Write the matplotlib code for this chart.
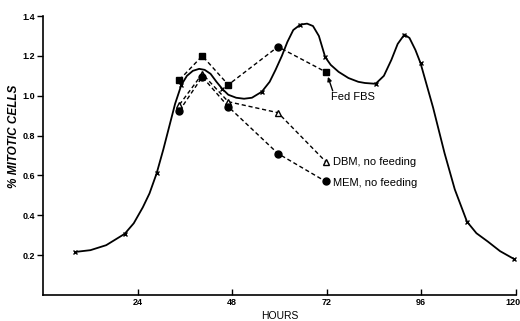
import numpy as np
import matplotlib.pyplot as plt
from matplotlib.transforms import offset_copy

plt.rcParams['font.family'] = ['Liberation Sans', 'DejaVu Sans']

# solid curve: x-marked observations
obs_h = [8.1, 20.7, 28.8, 35.1, 45.5, 55.5, 65.3, 71.6, 84.4, 91.7, 95.8, 107.6, 119.6]
obs_pct = [0.216, 0.307, 0.61, 1.055, 1.034, 1.02, 1.357, 1.194, 1.06, 1.307, 1.164, 0.368, 0.18]

# the hand-drawn curve through them
curve_h = [8.1, 12, 16, 20.7, 23, 25.3, 27, 28.8, 30.5, 32, 33.5, 35.1, 36.5, 38, 39.6,
           41, 42.5, 44, 45.5, 47, 49, 51, 53, 55.5, 57.5, 59, 60.6, 62, 63.5, 65.3,
           67, 68.5, 70, 71.6, 73, 75, 77.5, 80, 81.7, 84.4, 86.5, 88.4, 90, 91.7,
           93, 94.5, 95.8, 99, 101.9, 104.5, 107.6, 110, 112.9, 116, 119.6]
curve_pct = [0.216, 0.225, 0.25, 0.307, 0.36, 0.44, 0.51, 0.61, 0.73, 0.845, 0.96, 1.055,
             1.10, 1.125, 1.135, 1.13, 1.11, 1.07, 1.034, 1.005, 0.99, 0.985, 0.99, 1.02,
             1.07, 1.13, 1.2, 1.27, 1.33, 1.357, 1.362, 1.35, 1.30, 1.194, 1.155, 1.12,
             1.089, 1.07, 1.064, 1.06, 1.10, 1.18, 1.26, 1.307, 1.29, 1.23, 1.164, 0.94,
             0.712, 0.53, 0.368, 0.31, 0.268, 0.22, 0.18]

# dashed series
feed_h = [34.6, 40.4, 47.0, 59.6, 71.7]
fbs_pct = [1.08, 1.20, 1.055, 1.246, 1.12]
fbs_mk = ['s', 's', 's', 'o', 's']
dbm_pct = [0.955, 1.11, 0.97, 0.915, 0.67]
mem_pct = [0.925, 1.095, 0.945, 0.71, 0.57]

x_ticks = [24, 48, 72, 96, 120]
y_ticks = [0.2, 0.4, 0.6, 0.8, 1.0, 1.2, 1.4]
y_labels = ['0.2', '0.4', '0.6', '0.8', '1.0', '1.2', '1.4']

fig = plt.figure(figsize=(5.2, 3.21), dpi=100)
ax = fig.add_axes([0.083, 0.081, 0.909, 0.869])

ax.plot(curve_h, curve_pct, color='black', lw=1.3, zorder=3)
ax.plot(obs_h, obs_pct, 'x', color='black', ms=3, mew=1.0, zorder=4)

dash = (0, (3, 2))
ax.plot(feed_h, fbs_pct, color='black', lw=1.0, linestyle=dash, zorder=2)
for h, v, m in zip(feed_h, fbs_pct, fbs_mk):
    ax.plot(h, v, m, color='black', ms=5 if m == 'o' else 4.5, zorder=5)
ax.plot(feed_h, dbm_pct, color='black', lw=1.0, linestyle=dash, marker='^',
        mfc='white', mec='black', ms=4.5, mew=1.0, zorder=5)
ax.plot(feed_h, mem_pct, color='black', lw=1.0, linestyle=dash, marker='o',
        ms=5, zorder=5)

ax.annotate('', xy=(72.3, 1.095), xytext=(73.5, 1.025),
            arrowprops=dict(arrowstyle='-|>', color='black', lw=1.0,
                            mutation_scale=6, shrinkA=0, shrinkB=0))
ax.text(73.0, 0.995, 'Fed FBS', fontsize=8, va='center', ha='left')
ax.text(73.7, 0.67, 'DBM, no feeding', fontsize=8, va='center', ha='left')
ax.text(73.7, 0.561, 'MEM, no feeding', fontsize=8, va='center', ha='left')

ax.set_xlim(0, 120)
ax.set_ylim(0, 1.4)
ax.set_xticks(x_ticks)
ax.set_xticklabels([str(t) for t in x_ticks], fontsize=6.5, fontweight='bold')
ax.set_yticks(y_ticks)
ax.set_yticklabels(y_labels, fontsize=6.5, fontweight='bold')
ax.tick_params(axis='x', direction='in', length=4, width=1, pad=2)
ax.tick_params(axis='y', direction='out', length=4, width=1, pad=2)
# keep the last x label inside the figure
last = ax.get_xticklabels()[-1]
last.set_horizontalalignment('right')
last.set_transform(offset_copy(last.get_transform(), fig=fig, x=5, units='dots'))

for s in ['top', 'right']:
    ax.spines[s].set_visible(False)
for s in ['left', 'bottom']:
    ax.spines[s].set_linewidth(1.2)

ax.set_xlabel('HOURS', fontsize=7.5, labelpad=3)
ax.set_ylabel('% MITOTIC CELLS', fontsize=8.5, fontweight='bold', style='italic')
ax.yaxis.set_label_coords(-0.05, 0.57)

fig.savefig('out.png', dpi=100)
